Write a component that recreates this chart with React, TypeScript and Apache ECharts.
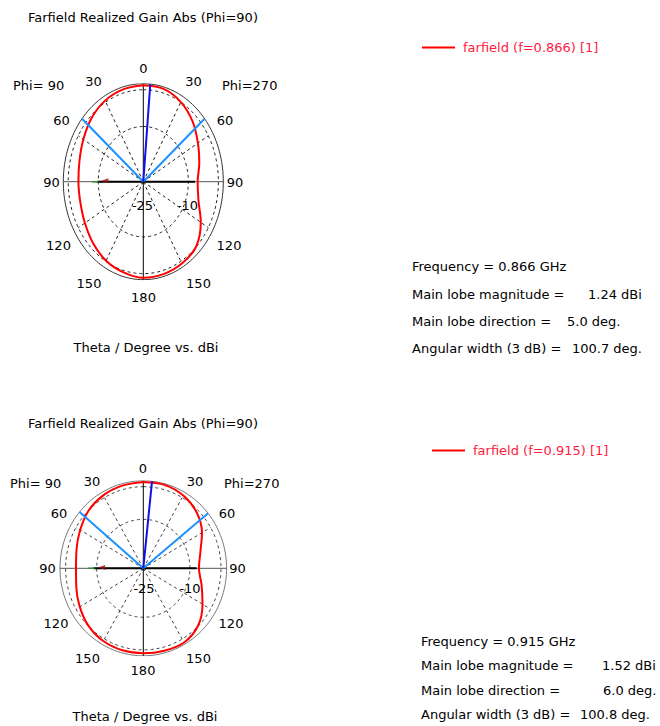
import React, { useEffect, useRef } from "react";
import * as echarts from "echarts";

// ---------- data ----------
// angle measured clockwise from the top of the polar plot (0..345, right side = 0..180)
const angles = [0, 15, 30, 45, 60, 75, 90, 105, 120, 135, 150, 165, 180, 195, 210, 225, 240, 255, 270, 285, 300, 315, 330, 345];
const gainTop = [1.2, 1.1, 0.0, -1.8, -4.0, -5.7, -6.9, -6.0, -2.9, -0.1, 0.7, 1.0, 1.1, 0.5, -0.2, -1.37, -2.55, -3.3, -3.4, -3.0, -1.96, -0.6, 0.45, 0.97];
const gainBottom = [1.45, 1.45, 0.73, -0.75, -3.2, -6.0, -7.1, -5.6, -3.0, -0.1, 1.25, 1.13, 1.02, 1.0, 0.73, -0.08, -1.4, -2.68, -3.35, -2.76, -1.55, -0.08, 0.78, 1.2];
const seriesNames = ["farfield (f=0.866) [1]", "farfield (f=0.915) [1]"];
const frequencies = ["0.866", "0.915"];
const mainLobeMag = [1.24, 1.52];
const mainLobeDir = [5.0, 6.0];
const angularWidth = [100.7, 100.8];
const beamEdges = [[50, 310], [51, 310]];
const radialMin = -25;
const radialMax = [1.64, 1.8];
const ringLevels = [-10, 0];
const radialTickLabels = ["-25", "-10"];
const spokeAngles = [30, 60, 120, 150, 210, 240, 300, 330];
const sideLobeSpan = [[-0.58, 0.646], [-0.6, 0.64]];

// ---------- layout ----------
const FONT = '"DejaVu Sans", sans-serif';
const plots = [
  {
    cx: 143.3, cy: 181.7, rx: 80, ry: 98, outer: "#333", dash: "#222",
    title: [28, 17], footer: [146, 347],
    legend: [422, 48], info: { x: 412, ys: [266, 294, 321, 348], vx: [588, 567, 572] },
    labels: [["0", 143.5, 68], ["30", 93.5, 81], ["30", 193.5, 81], ["60", 61.5, 120], ["60", 225, 120], ["90", 51.5, 182], ["90", 235, 182], ["120", 58.5, 245], ["120", 229, 245], ["150", 89, 283], ["150", 198.5, 283], ["180", 143.5, 297]],
    phi: [[13, 85], [222, 85]],
    rlab: [[142.5, 205], [187.5, 205]],
  },
  {
    cx: 143.3, cy: 568.3, rx: 83.3, ry: 87.5, outer: "#777", dash: "#444",
    title: [28, 423], footer: [145, 716],
    legend: [432, 451], info: { x: 421, ys: [641, 665, 690, 714], vx: [602, 603, 580] },
    labels: [["0", 143, 468], ["30", 92, 481], ["30", 195, 481], ["60", 59, 513], ["60", 227, 513], ["90", 47.5, 568], ["90", 237.5, 568], ["120", 56, 623.5], ["120", 231, 623.5], ["150", 87.5, 658], ["150", 198.5, 658], ["180", 143, 670]],
    phi: [[10, 483], [224, 483]],
    rlab: [[144, 588.5], [190, 588.5]],
  },
];

const rad = (d: number) => (d * Math.PI) / 180;
const norm = (db: number, max: number) => (db - radialMin) / (max - radialMin);
const pt = (a: number, r: number) => [r * Math.sin(rad(a)), r * Math.cos(rad(a))];
const ellipse = (r: number) => {
  const out: number[][] = [];
  for (let d = 0; d <= 360; d += 2) out.push(pt(d, r));
  return out;
};

function text(t: string, x: number, y: number, align = "center", color = "#000", size = 13) {
  return {
    type: "text",
    x, y, silent: true,
    style: { text: t, fill: color, font: `${size}px ${FONT}`, textAlign: align, textVerticalAlign: "middle" },
  };
}

export default function App() {
  const ref = useRef<HTMLDivElement>(null);
  useEffect(() => {
    document.body.style.margin = "0";
    const chart = echarts.init(ref.current!, null, { renderer: "svg" });
    const gains = [gainTop, gainBottom];
    const grids: any[] = [];
    const xAxes: any[] = [];
    const yAxes: any[] = [];
    const series: any[] = [];
    const graphic: any[] = [];
    const legends: any[] = [];

    plots.forEach((p, i) => {
      grids.push({ left: p.cx - p.rx, top: p.cy - p.ry, width: 2 * p.rx, height: 2 * p.ry });
      xAxes.push({ type: "value", gridIndex: i, min: -1, max: 1, show: false });
      yAxes.push({ type: "value", gridIndex: i, min: -1, max: 1, show: false });
      const ax = { xAxisIndex: i, yAxisIndex: i, silent: true, animation: false };
      const max = radialMax[i];
      const lineS = (data: any[], color: string, width: number, type: any = "solid", z = 1) => ({
        type: "line", ...ax, data, symbol: "none", z,
        lineStyle: { color, width, type }, emphasis: { disabled: true },
      });
      // outer ring
      series.push(lineS(ellipse(1), p.outer, 1));
      // dashed rings
      ringLevels.forEach((lv) => series.push(lineS(ellipse(norm(lv, max)), p.dash, 1, [3, 3])));
      // spokes
      const rOuterDash = norm(ringLevels[ringLevels.length - 1], max);
      spokeAngles.forEach((a) => series.push(lineS([pt(a, 0.0), pt(a, rOuterDash)], p.dash, 1, [3, 3])));
      // axes lines
      series.push(lineS([pt(270, 1), pt(90, 1)], "#555", 1));
      series.push(lineS([pt(0, 1), pt(180, 1)], "#000", 1));
      // red pattern
      const g = gains[i];
      const curve = angles.map((a, k) => pt(a, norm(g[k], max)));
      curve.push(curve[0]);
      series.push({
        type: "line", ...ax, name: seriesNames[i], data: curve, symbol: "none", smooth: 0.35, z: 3,
        lineStyle: { color: "#ff0000", width: 2 }, itemStyle: { color: "#ff0000" }, emphasis: { disabled: true },
      });
      // side lobe line
      series.push(lineS([[sideLobeSpan[i][0], 0], [sideLobeSpan[i][1], 0]], "#000", 2, "solid", 4));
      series.push(lineS([[sideLobeSpan[i][0] - 0.06, 0], [sideLobeSpan[i][0] + 0.02, 0]], "#2e8b2e", 1.5, "solid", 4));
      series.push({
        type: "scatter", ...ax, data: [[sideLobeSpan[i][0] + 0.1, 0.01]], symbol: "triangle", symbolRotate: 90,
        symbolSize: [5, 7], itemStyle: { color: "#a01010" }, z: 5,
      });
      // beam edges & main lobe
      beamEdges[i].forEach((a) => series.push(lineS([[0, 0], pt(a, 1.0)], "#1e90ff", 2, "solid", 5)));
      series.push(lineS([[0, 0], pt(mainLobeDir[i], 1.0)], "#1010e8", 2, "solid", 6));

      // texts
      graphic.push(text("Farfield Realized Gain Abs (Phi=90)", p.title[0], p.title[1], "left"));
      graphic.push(text("Theta / Degree vs. dBi", p.footer[0], p.footer[1]));
      p.labels.forEach((l: any) => graphic.push(text(l[0], l[1], l[2])));
      graphic.push(text("Phi= 90", p.phi[0][0], p.phi[0][1], "left"));
      graphic.push(text("Phi=270", p.phi[1][0], p.phi[1][1], "left"));
      radialTickLabels.forEach((t, k) => graphic.push(text(t, p.rlab[k][0], p.rlab[k][1])));
      const inf = p.info;
      graphic.push(text(`Frequency = ${frequencies[i]} GHz`, inf.x, inf.ys[0], "left"));
      graphic.push(text("Main lobe magnitude =", inf.x, inf.ys[1], "left"));
      graphic.push(text(`${mainLobeMag[i].toFixed(2)} dBi`, inf.vx[0], inf.ys[1], "left"));
      graphic.push(text("Main lobe direction =", inf.x, inf.ys[2], "left"));
      graphic.push(text(`${mainLobeDir[i].toFixed(1)} deg.`, inf.vx[1], inf.ys[2], "left"));
      graphic.push(text("Angular width (3 dB) =", inf.x, inf.ys[3], "left"));
      graphic.push(text(`${angularWidth[i].toFixed(1)} deg.`, inf.vx[2], inf.ys[3], "left"));

      legends.push({
        data: [{ name: seriesNames[i], icon: "rect", itemStyle: { color: "#ff0000" } }],
        left: p.legend[0], top: p.legend[1] - 7, itemWidth: 33, itemHeight: 2,
        selectedMode: false, padding: 0,
        textStyle: { color: "#ff2040", fontSize: 13, fontFamily: FONT, padding: [0, 0, 0, 3] },
      });
    });

    chart.setOption({
      animation: false,
      backgroundColor: "#ffffff",
      grid: grids, xAxis: xAxes, yAxis: yAxes, series, graphic, legend: legends,
    });
    return () => chart.dispose();
  }, []);
  return <div ref={ref} style={{ width: 660, height: 726 }} />;
}
